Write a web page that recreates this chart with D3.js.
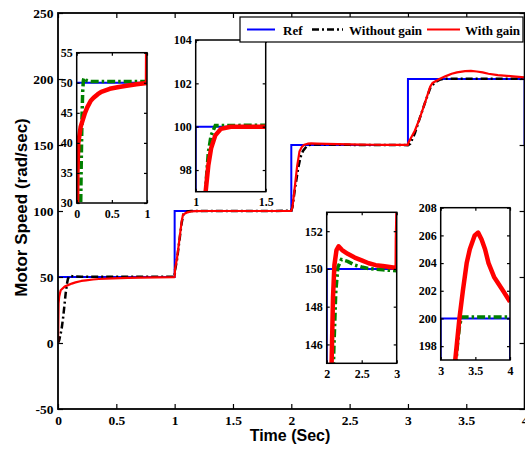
<!DOCTYPE html>
<html>
<head>
<meta charset="utf-8">
<script src="https://cdn.jsdelivr.net/npm/d3@7"></script>
<style>
  body { margin: 0; background: #fff; }
  svg .tick text, svg .legend text {
    font-family: "Liberation Serif", "Times New Roman", serif;
    font-weight: bold;
    fill: #000;
  }
  svg .title {
    font-family: "Liberation Sans", Arial, sans-serif;
    font-weight: bold;
    fill: #000;
  }
</style>
</head>
<body>
<svg id="chart" width="525" height="453"></svg>
<script>
// ---- Data: motor speed response (rad/sec) versus time (sec) ----
const refTime  = [0, 1, 1, 2, 2, 3, 3, 4, 4];
const refSpeed = [50, 50, 100, 100, 150, 150, 200, 200, 150];

const noGainTime = [
  0, 0.01, 0.03, 0.045, 0.057, 0.065, 0.075, 0.085, 0.095, 0.104, 0.12, 0.15, 0.2, 1.0,
  1.003, 1.02, 1.04, 1.06, 1.075, 1.09, 1.11, 1.14, 2.0,
  2.01, 2.03, 2.06, 2.08, 2.1, 2.13, 2.16, 2.21, 2.3, 2.4, 2.5, 2.6, 2.8, 3.0,
  3.02, 3.06, 3.1, 3.15, 3.19, 3.23, 3.27, 3.3, 4.0
];
const noGainSpeed = [
  0, 2, 10, 20, 30, 37, 44, 48.5, 50.4, 50.8, 50.6, 50.3, 50.2, 50.2,
  55, 63, 77, 91, 97.5, 98.8, 99.6, 100.05, 100.1,
  103, 116, 133, 141, 145.5, 148.8, 150.1, 150.5, 150.4, 150.2, 150.1, 150.02, 149.95, 149.9,
  151, 159, 170, 183, 193, 197.5, 199.4, 200.1, 200.1
];

const gainTime = [
  0, 0.002, 0.005, 0.01, 0.023, 0.057, 0.118, 0.15, 0.2, 0.24, 0.3, 0.35, 0.47, 0.6, 0.71, 0.85, 1.0,
  1.003, 1.02, 1.04, 1.06, 1.071, 1.09, 1.11, 1.14, 1.18, 1.25, 2.0,
  2.01, 2.03, 2.05, 2.07, 2.09, 2.11, 2.14, 2.17, 2.22, 2.3, 2.4, 2.5, 2.6, 2.7, 2.8, 2.9, 3.0,
  3.003, 3.03, 3.06, 3.1, 3.15, 3.19, 3.21, 3.27, 3.32, 3.375, 3.42, 3.49, 3.54, 3.59, 3.64, 3.69, 3.77, 3.9, 4.0
];
const gainSpeed = [
  0, 10, 30, 35, 40, 42.7, 45, 45.9, 47.0, 47.5, 48.1, 48.5, 49.0, 49.3, 49.5, 49.75, 49.95,
  56, 64, 78, 92, 97, 98.2, 99.0, 99.6, 99.9, 100.0, 100.0,
  103, 118, 134, 145, 148.5, 150.2, 151.0, 151.2, 151.0, 150.8, 150.6, 150.45, 150.3, 150.2, 150.15, 150.1, 150.05,
  151.6, 156, 161, 170, 183, 194, 197, 200, 202, 204, 205, 206, 206.2, 205.7, 205, 204, 203, 202, 201.2
];

// Main axis ticks
const mainXTicks = [0, 0.5, 1, 1.5, 2, 2.5, 3, 3.5, 4];
const mainYTicks = [-50, 0, 50, 100, 150, 200, 250];

// Zoomed views: data ranges and their ticks
const insetXDomains = [[0, 1], [1, 1.5], [2, 3], [3, 4]];
const insetYDomains = [[30, 55], [97, 104], [145, 153], [197, 208]];
const insetXTicks = [[0, 0.5, 1], [1, 1.5], [2, 2.5, 3], [3, 3.5, 4]];
const insetYTicks = [[30, 35, 40, 45, 50, 55], [98, 100, 102, 104], [146, 148, 150, 152], [198, 200, 202, 204, 206, 208]];

const legendLabels = ["Ref", "Without gain", "With gain"];

// ---- Layout ----
const svg = d3.select("#chart");
const mainBox = { left: 58, right: 524.6, top: 13, bottom: 409 };
const insetBoxes = [
  { left: 76.7, right: 147, top: 52.7, bottom: 203 },
  { left: 195.7, right: 265.7, top: 40, bottom: 191.7 },
  { left: 326.7, right: 396.7, top: 212.3, bottom: 363.3 },
  { left: 440.7, right: 510, top: 207.7, bottom: 360 }
];

const zip = (ts, vs) => ts.map((t, i) => [t, vs[i]]);
const refData = zip(refTime, refSpeed);
const noGainData = zip(noGainTime, noGainSpeed);
const gainData = zip(gainTime, gainSpeed);

const fmt = d => String(d);
let clipCount = 0;

function panel(box, xDomain, yDomain, xTicks, yTicks, opts) {
  const xs = d3.scaleLinear().domain(xDomain).range([box.left, box.right]);
  const ys = d3.scaleLinear().domain(yDomain).range([box.bottom, box.top]);
  const g = svg.append("g");
  const clipId = "panel-clip-" + (clipCount++);

  g.append("clipPath").attr("id", clipId)
    .append("rect")
    .attr("x", box.left).attr("y", box.top)
    .attr("width", box.right - box.left).attr("height", box.bottom - box.top);

  g.append("rect")
    .attr("x", box.left).attr("y", box.top)
    .attr("width", box.right - box.left).attr("height", box.bottom - box.top)
    .attr("fill", "#fff");

  const line = d3.line().x(d => xs(d[0])).y(d => ys(d[1]));
  const lines = g.append("g").attr("clip-path", `url(#${clipId})`);

  lines.append("path").datum(refData)
    .attr("d", line).attr("fill", "none")
    .attr("stroke", "#0000ff").attr("stroke-width", opts.refWidth);

  lines.append("path").datum(noGainData)
    .attr("d", line).attr("fill", "none")
    .attr("stroke", opts.noGainColor).attr("stroke-width", opts.noGainWidth)
    .attr("stroke-dasharray", opts.dash);

  lines.append("path").datum(gainData)
    .attr("d", line).attr("fill", "none")
    .attr("stroke", "#ff0000").attr("stroke-width", opts.gainWidth)
    .attr("stroke-linejoin", "round");

  const ts = opts.tickLen;
  const styleAxis = (a) => {
    a.select(".domain").remove();
    a.selectAll(".tick line").attr("stroke", "#000").attr("stroke-width", 1.2);
    a.selectAll(".tick text").attr("font-size", opts.fontSize + "px");
  };

  g.append("g").attr("transform", `translate(0,${box.bottom})`)
    .call(d3.axisBottom(xs).tickValues(xTicks).tickSize(-ts).tickSizeOuter(0)
      .tickPadding(opts.xPad).tickFormat(fmt))
    .call(styleAxis);
  g.append("g").attr("transform", `translate(0,${box.top})`)
    .call(d3.axisTop(xs).tickValues(xTicks).tickSize(-ts).tickSizeOuter(0).tickFormat(""))
    .call(styleAxis);
  g.append("g").attr("transform", `translate(${box.left},0)`)
    .call(d3.axisLeft(ys).tickValues(yTicks).tickSize(-ts).tickSizeOuter(0)
      .tickPadding(opts.yPad).tickFormat(fmt))
    .call(styleAxis);
  g.append("g").attr("transform", `translate(${box.right},0)`)
    .call(d3.axisRight(ys).tickValues(yTicks).tickSize(-ts).tickSizeOuter(0).tickFormat(""))
    .call(styleAxis);

  g.append("rect")
    .attr("x", box.left).attr("y", box.top)
    .attr("width", box.right - box.left).attr("height", box.bottom - box.top)
    .attr("fill", "none").attr("stroke", "#000").attr("stroke-width", opts.frameWidth);

  g.selectAll("text").attr("font-family", "Liberation Serif, Times New Roman, serif")
    .attr("font-weight", "bold").attr("fill", "#000");
  return g;
}

// Main plot
panel(mainBox, [0, 4], [-50, 250], mainXTicks, mainYTicks, {
  refWidth: 2, noGainColor: "#000", noGainWidth: 2.5, dash: "7 3 2 3",
  gainWidth: 2.2, tickLen: 5, fontSize: 13.5, xPad: 6, yPad: 4.5, frameWidth: 1.8
});

// Zoomed views
insetBoxes.forEach((box, i) => {
  panel(box, insetXDomains[i], insetYDomains[i], insetXTicks[i], insetYTicks[i], {
    refWidth: 2, noGainColor: "#008000", noGainWidth: 3.5, dash: "8 3 2.5 3",
    gainWidth: 4.5, tickLen: 3, fontSize: 12, xPad: 6, yPad: 4, frameWidth: 1.5
  });
});

// Legend
const legend = svg.append("g").attr("class", "legend");
legend.append("rect")
  .attr("x", 240).attr("y", 17).attr("width", 283).attr("height", 25)
  .attr("fill", "#fff").attr("stroke", "#000").attr("stroke-width", 1.2);
const legendItems = [
  { x1: 247, x2: 275, tx: 283, color: "#0000ff", dash: null, w: 2 },
  { x1: 312, x2: 343, tx: 349, color: "#000", dash: "7 3 2 3", w: 2.5 },
  { x1: 427, x2: 460, tx: 465, color: "#ff0000", dash: null, w: 2 }
];
legendItems.forEach((it, i) => {
  legend.append("line")
    .attr("x1", it.x1).attr("x2", it.x2).attr("y1", 29.5).attr("y2", 29.5)
    .attr("stroke", it.color).attr("stroke-width", it.w)
    .attr("stroke-dasharray", it.dash);
  legend.append("text")
    .attr("x", it.tx).attr("y", 34.5)
    .attr("font-size", "13px")
    .text(legendLabels[i]);
});

// Axis titles
svg.append("text").attr("class", "title")
  .attr("x", 290).attr("y", 441).attr("text-anchor", "middle")
  .attr("font-size", "16px").text("Time (Sec)");
svg.append("text").attr("class", "title")
  .attr("transform", "translate(27,207.5) rotate(-90)")
  .attr("text-anchor", "middle")
  .attr("font-size", "17px").text("Motor Speed (rad/sec)");
</script>
</body>
</html>
